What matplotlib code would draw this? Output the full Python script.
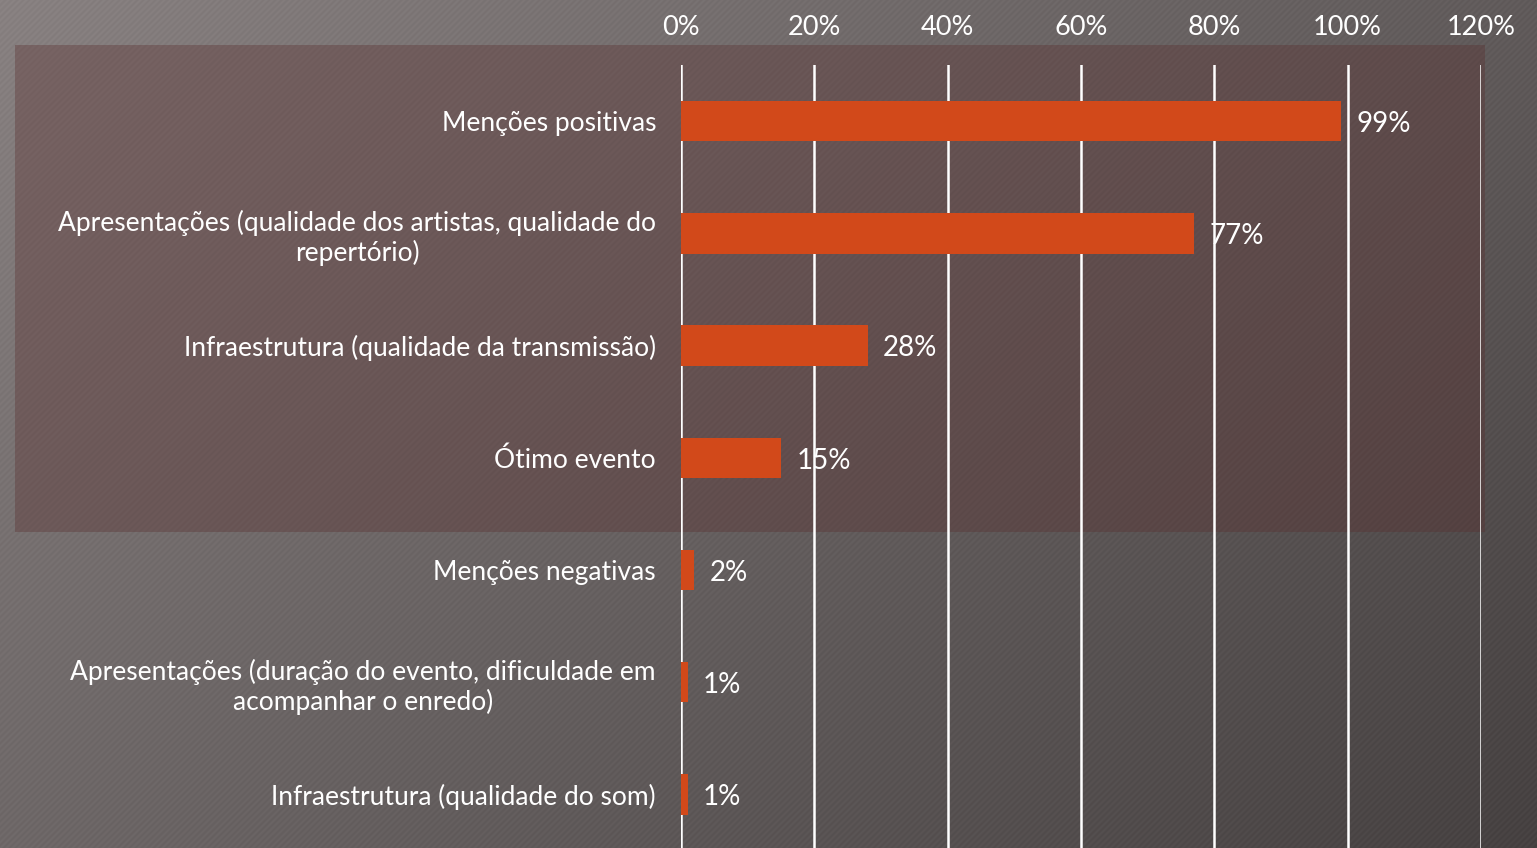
import numpy as np
import matplotlib
matplotlib.use("Agg")
import matplotlib.pyplot as plt
from matplotlib.patches import Rectangle

categorias = [
    "Menções positivas",
    "Apresentações (qualidade dos artistas, qualidade do\nrepertório)",
    "Infraestrutura (qualidade da transmissão)",
    "Ótimo evento",
    "Menções negativas",
    "Apresentações (duração do evento, dificuldade em\nacompanhar o enredo)",
    "Infraestrutura (qualidade do som)",
]
valores = [99, 77, 28, 15, 2, 1, 1]
ticks = [0, 20, 40, 60, 80, 100, 120]

plt.rcParams['font.family'] = ['Lato', 'DejaVu Sans']

W, H = 1537, 848
fig = plt.figure(figsize=(W / 100, H / 100), dpi=100)

# fundo: gradiente diagonal com listras finas
bg = fig.add_axes([0, 0, 1, 1])
yy, xx = np.mgrid[0:H, 0:W]
t = 0.6 * xx / W + 0.4 * yy / H
c0 = np.array([0x88, 0x81, 0x81]) / 255
c1 = np.array([0x46, 0x41, 0x41]) / 255
img = c0[None, None, :] + (c1 - c0)[None, None, :] * t[:, :, None]
listras = 0.012 * np.sin(2 * np.pi * (xx + yy) / 6.0)
img = np.clip(img + listras[:, :, None], 0, 1)
bg.imshow(img, aspect='auto', extent=[0, 1, 0, 1], origin='upper', zorder=0)
# retângulo avermelhado translúcido (fica atrás do gráfico)
bg.add_patch(Rectangle((15 / W, 1 - 532 / H), (1485 - 15) / W, (532 - 45) / H,
                       facecolor='#5a2e2e', alpha=0.35, edgecolor='none', zorder=1))
bg.set_xlim(0, 1)
bg.set_ylim(0, 1)
bg.axis('off')

ax = fig.add_axes([681 / W, -0.003, 800 / W, 785.5 / H])
ax.patch.set_alpha(0)
y = np.arange(len(categorias))
ax.barh(y, valores, height=0.36, color='#d2491a', zorder=3)
for yi, v in zip(y, valores):
    ax.annotate(f"{v}%", xy=(v, yi), xytext=(11, -2), textcoords='offset points',
                ha='left', va='center', color='white', fontsize=20, zorder=4)

for t_ in ticks:
    ax.axvline(t_, color='white', lw=1.8, zorder=2)

ax.set_xlim(0, 120)
ax.set_ylim(len(categorias) - 0.5, -0.5)
ax.set_yticks(y)
ax.set_yticklabels(categorias, fontsize=19, color='white', linespacing=1.2)
ax.set_xticks(ticks)
ax.set_xticklabels([f"{v}%" for v in ticks], fontsize=19.5, color='white')
ax.xaxis.tick_top()
ax.tick_params(axis='x', length=0, pad=18)
ax.tick_params(axis='y', length=0, pad=18)
for s in ax.spines.values():
    s.set_visible(False)

# categorias encostadas à direita, linhas centralizadas entre si
for lbl in ax.get_yticklabels():
    lbl.set_ha('right')
    lbl.set_multialignment('center')

fig.savefig("out.png", dpi=100)
